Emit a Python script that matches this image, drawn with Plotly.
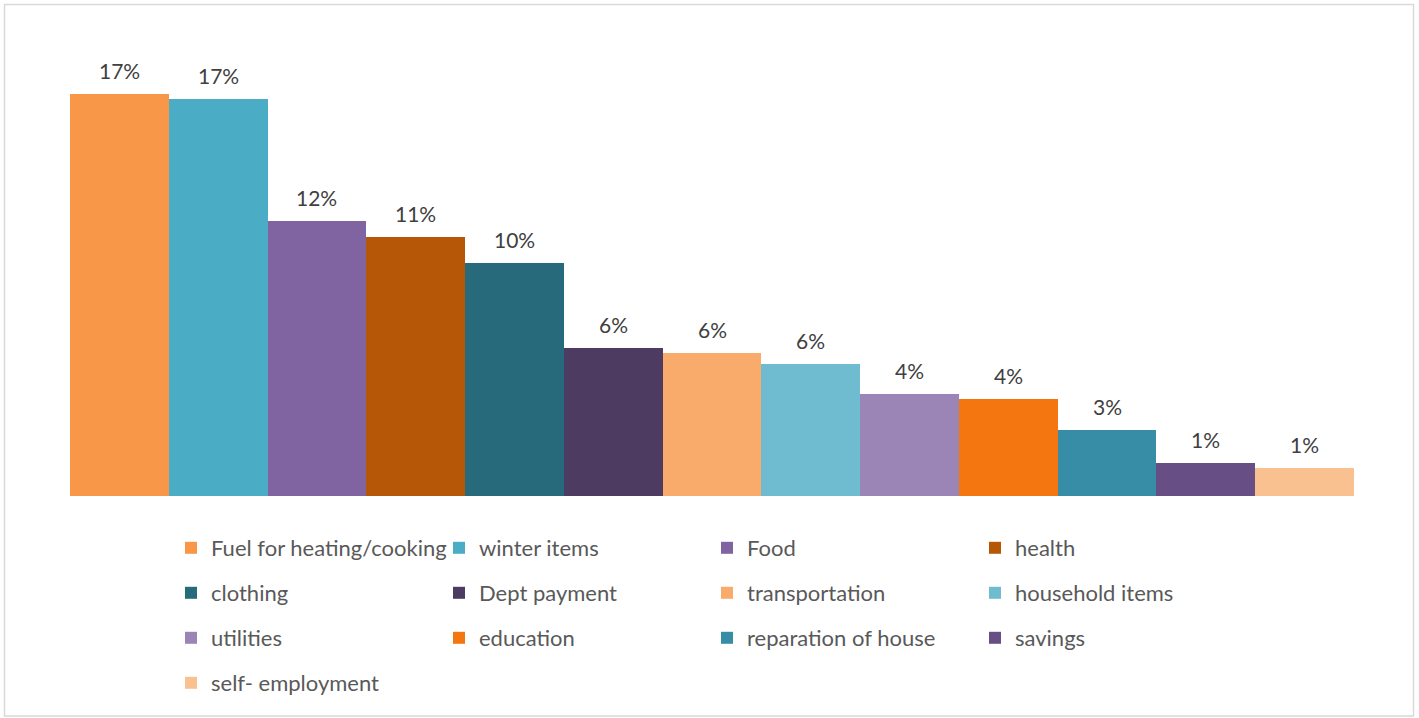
import plotly.graph_objects as go

categories = ["Fuel for heating/cooking", "winter items", "Food", "health", "clothing",
              "Dept payment", "transportation", "household items", "utilities", "education",
              "reparation of house", "savings", "self- employment"]
values = [17.4, 17.2, 11.9, 11.2, 10.1, 6.4, 6.2, 5.7, 4.4, 4.2, 2.85, 1.45, 1.2]
colors = ["#F79747", "#4BACC6", "#8064A2", "#B65708", "#276A7C", "#4D3B62", "#F9AB6B",
          "#6FBCD0", "#9B85B7", "#F47610", "#378DA5", "#674F85", "#F9C190"]
labels = [f"{round(v)}%" for v in values]

W, H = 1419, 718
FONT = "Lato, Open Sans, sans-serif"

fig = go.Figure()
legend_names = ["legend", "legend2", "legend3", "legend4"]
for i, (c, v, col) in enumerate(zip(categories, values, colors)):
    fig.add_trace(go.Bar(
        x=[c], y=[v], name=c, marker=dict(color=col, line=dict(width=0)),
        legend=legend_names[i // 4], hoverinfo="name+y",
    ))

for c, v, t in zip(categories, values, labels):
    fig.add_annotation(x=c, y=v, text=t, showarrow=False, yanchor="bottom", yshift=9,
                       font=dict(family=FONT, size=21, color="#404040"))

row_y = [548, 593, 638, 683]
leg_common = dict(orientation="h", xref="container", yref="container",
                  xanchor="left", yanchor="middle", entrywidth=223, entrywidthmode="pixels",
                  font=dict(family=FONT, size=22, color="#595959"),
                  bgcolor="rgba(0,0,0,0)", traceorder="normal")
legends = {}
for name, py in zip(legend_names, row_y):
    legends[name] = dict(leg_common, x=171 / W, y=1 - py / H)

fig.update_layout(
    width=W, height=H,
    margin=dict(l=70, r=65, t=34, b=222),
    paper_bgcolor="white", plot_bgcolor="white",
    barmode="group", bargap=0, bargroupgap=0,
    xaxis=dict(visible=False, categoryorder="array", categoryarray=categories),
    yaxis=dict(visible=False, range=[0, 20]),
    showlegend=True,
    **legends,
)

# chart border
fig.add_shape(type="rect", xref="paper", yref="paper",
              x0=(4.5 - 70) / 1284, x1=(1413.5 - 70) / 1284,
              y0=(496 - 716) / 462, y1=(496 - 4.5) / 462,
              line=dict(color="#D9D9D9", width=1.5), fillcolor="rgba(0,0,0,0)", layer="below")

fig.write_html("out.html")
